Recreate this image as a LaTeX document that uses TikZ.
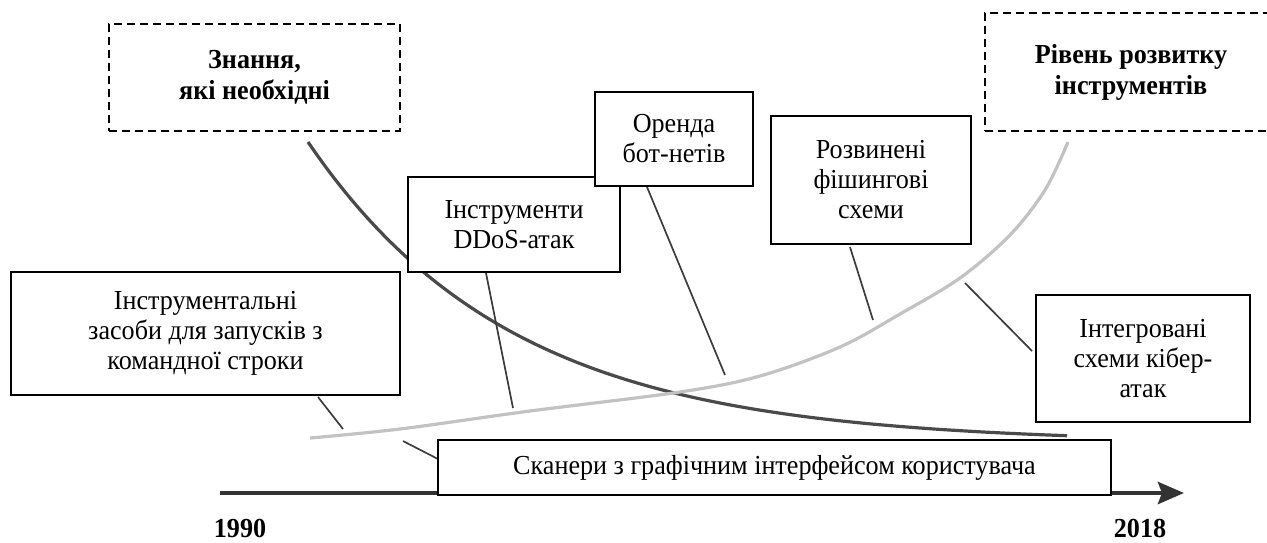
\documentclass[tikz,border=0pt]{standalone}
\usepackage{fontspec}
\setmainfont[FakeStretch=0.95]{Liberation Serif}
\usetikzlibrary{arrows.meta}
\definecolor{axiscol}{HTML}{333333}
\definecolor{knowcol}{HTML}{4A4A4A}
\definecolor{toolcol}{HTML}{C2C2C2}
\definecolor{linkcol}{HTML}{3C3C3C}
\begin{document}
\begin{tikzpicture}[x=1pt,y=-1pt,
  box/.style={draw=black, line width=1.6pt, fill=white, inner sep=0pt, align=center,
    font=\fontsize{27.5}{30}\selectfont},
  dbox/.style={draw=black, line width=1.6pt, dash pattern=on 8pt off 5pt, inner sep=0pt, align=center,
    font=\fontsize{27.5}{31}\selectfont\bfseries},
  year/.style={inner sep=0pt, font=\fontsize{27.5}{30}\selectfont\bfseries},
  link/.style={draw=linkcol, line width=1.7pt},
  curveknow/.style={draw=knowcol, line width=3.2pt},
  curvetool/.style={draw=toolcol, line width=3.2pt},
  axisline/.style={draw=axiscol, line width=4.5pt, -{Stealth[length=26pt,width=22pt,inset=4pt]}}
]
\useasboundingbox (0,0) rectangle (1267,542);

% time axis
\coordinate (ax0) at (220,493);
\coordinate (ax1) at (1184,493);
\draw[axisline] (ax0) -- (ax1);

% curves
\draw[curveknow] plot[domain=308:1067, samples=90, smooth] (\x, {443-301*exp(-0.0049*(\x-308))});
\draw[curvetool] plot[smooth, tension=0.55] coordinates {(310,438) (400,429) (530,411) (680,392) (760,376) (840,347) (900,314) (960,278) (1010,235) (1045,190) (1068,142)};

% connectors
\coordinate (l1a) at (318,397); \coordinate (l1b) at (343,429);
\coordinate (l2a) at (403,441); \coordinate (l2b) at (438,459);
\coordinate (l3a) at (486,273); \coordinate (l3b) at (513,408);
\coordinate (l4a) at (647,187); \coordinate (l4b) at (725,375);
\coordinate (l5a) at (850,247); \coordinate (l5b) at (873,320);
\coordinate (l6a) at (965,283); \coordinate (l6b) at (1032,351);
\draw[link] (l1a) -- (l1b);
\draw[link] (l2a) -- (l2b);
\draw[link] (l3a) -- (l3b);
\draw[link] (l4a) -- (l4b);
\draw[link] (l5a) -- (l5b);
\draw[link] (l6a) -- (l6b);

% boxes
\node[box, minimum width=389pt, minimum height=123pt] (cmd) at (205.5,333.5)
  {Інструментальні\\засоби для запусків з\\командної строки};
\node[box, minimum width=212pt, minimum height=95pt] (ddos) at (514,224.5)
  {Інструменти\\DDoS-атак};
\node[box, minimum width=158pt, minimum height=94pt] (bot) at (674,139)
  {Оренда\\бот-нетів};
\node[box, minimum width=200pt, minimum height=128pt] (phish) at (871,180)
  {Розвинені\\фішингові\\схеми};
\node[box, minimum width=214pt, minimum height=127pt] (integ) at (1143,358.5)
  {Інтегровані\\схеми кібер-\\атак};
\node[box, minimum width=673pt, minimum height=55pt] (scan) at (774.5,467.5)
  {Сканери з графічним інтерфейсом користувача};

\node[dbox, minimum width=291pt, minimum height=107pt] (know) at (254.5,77.5)
  {Знання,\\які необхідні};
\node[dbox, minimum width=292pt, minimum height=118pt] (tools) at (1131,72)
  {Рівень розвитку\\інструментів};

% years
\node[year] (y1990) at (240,528) {1990};
\node[year] (y2018) at (1140,528) {2018};
\end{tikzpicture}
\end{document}
